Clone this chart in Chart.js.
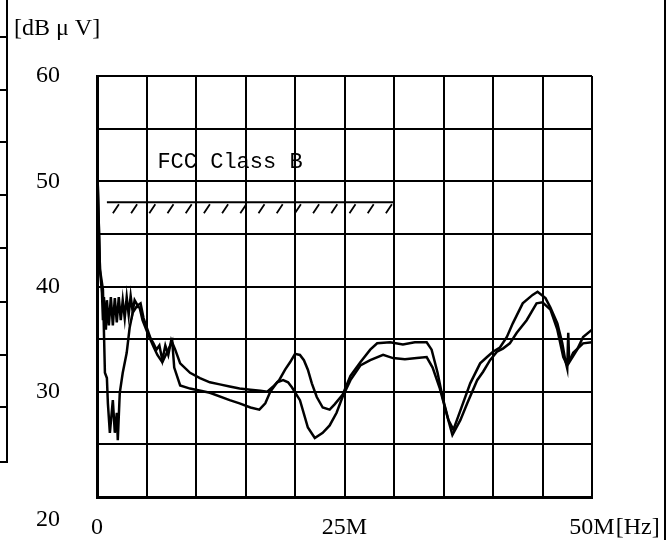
<!DOCTYPE html>
<html>
<head>
<meta charset="utf-8">
<script src="https://cdn.jsdelivr.net/npm/chart.js@4.4.0/dist/chart.umd.min.js"></script>
<style>
  html, body { margin: 0; padding: 0; background: #fff; }
  canvas { display: block; }
</style>
</head>
<body>
<canvas id="emiChart" width="670" height="540"></canvas>
<script>
// Datos (frecuencia en MHz, nivel en dBuV)
const freqA = [0, 0.3, 0.6, 0.8, 1.0, 1.1, 1.3, 1.6, 1.8, 2.0, 2.1, 2.3, 2.6, 3.0, 3.3, 3.6, 4.0, 4.3, 4.6, 5.1,
  5.7, 6.1, 6.6, 7.1, 7.6, 7.8, 8.4, 9.4, 11.4, 13.4, 14.4, 15.5, 16.4, 17.0, 17.5, 18.2, 18.8, 19.3, 19.7, 20.5,
  21.3, 22.0, 22.8, 23.5, 24.2, 24.8, 25.6, 26.6, 27.6, 28.9, 29.9, 31.1, 32.3, 33.3, 33.9, 34.6, 35.4, 35.9, 36.7,
  37.4, 38.4, 39.0, 39.7, 40.4, 41.0, 41.7, 42.4, 43.4, 44.4, 45.0, 45.8, 46.5, 47.1, 47.5, 48.1, 49.1, 50];
const levelA = [52.5, 41.6, 39.7, 31.8, 31.3, 28.9, 26.1, 29.2, 26.1, 28.0, 25.4, 29.9, 31.8, 33.7, 36.1, 37.5, 38.1, 38.0, 36.8, 35.6,
  34.3, 33.5, 32.8, 33.8, 34.8, 32.3, 30.6, 30.3, 29.9, 29.2, 28.9, 28.5, 28.3, 28.9, 30.0, 30.9, 31.1, 30.9, 30.4, 29.2,
  26.6, 25.6, 26.1, 26.8, 28.0, 29.5, 31.1, 32.5, 33.0, 33.5, 33.2, 33.1, 33.2, 33.3, 32.3, 30.4, 27.6, 25.9, 27.3,
  28.9, 31.1, 31.9, 33.0, 33.8, 34.1, 34.6, 35.6, 36.8, 38.4, 38.5, 37.8, 35.9, 33.3, 32.5, 33.7, 34.6, 34.7];

const freqB = [0, 0.3, 0.5, 0.6, 0.7, 0.9, 1.0, 1.2, 1.4, 1.6, 1.8, 2.0, 2.2, 2.4, 2.6, 2.8, 3.0, 3.2, 3.4, 3.6,
  3.8, 4.1, 4.4, 4.7, 5.1, 5.4, 5.7, 6.0, 6.3, 6.6, 6.9, 7.2, 7.5, 7.9, 8.4, 9.4, 10.4, 11.4, 12.4, 13.4,
  14.4, 15.5, 16.5, 17.2, 17.8, 18.4, 19.0, 19.5, 20.0, 20.5, 20.9, 21.3, 21.7, 22.2, 22.8, 23.5, 24.0, 24.8, 25.6,
  26.6, 27.6, 28.3, 29.6, 30.9, 32.1, 33.3, 33.8, 34.4, 34.9, 35.5, 36.0, 36.7, 37.7, 38.7, 39.4, 40.0, 40.7, 41.4,
  42.0, 43.0, 44.0, 44.5, 45.3, 45.8, 46.5, 47.0, 47.3, 47.5, 47.6, 47.7, 48.5, 49.1, 50];
const levelB = [52.5, 41.6, 39.4, 36.8, 39.0, 35.9, 38.7, 36.3, 39.0, 36.3, 38.9, 36.6, 39.0, 36.8, 38.7, 37.0, 39.0, 37.3, 39.1, 37.6,
  38.7, 38.2, 38.4, 37.0, 35.9, 35.1, 34.6, 34.0, 34.4, 33.0, 34.4, 33.5, 34.9, 34.0, 32.7, 31.8, 31.3, 30.9, 30.7, 30.5,
  30.3, 30.2, 30.1, 30.0, 30.5, 31.1, 32.1, 32.8, 33.6, 33.5, 33.0, 32.1, 30.8, 29.5, 28.5, 28.3, 28.8, 29.7, 31.5,
  32.8, 34.0, 34.6, 34.7, 34.5, 34.7, 34.7, 34.0, 31.8, 29.5, 27.3, 26.4, 28.2, 30.8, 32.7, 33.3, 33.8, 34.2, 35.2,
  36.5, 38.4, 39.2, 39.5, 38.9, 38.0, 36.5, 34.6, 33.0, 32.2, 35.6, 32.8, 34.0, 35.2, 35.9];

// Límite FCC Class B
const limitFreq = [1, 30];
const limitLevel = [48, 48];
const limitName = 'FCC Class B';

// Etiquetas de los ejes
const xTickLabels = { 0: '0', 25: '25M', 50: '50M' };
const yTickLabels = [20, 30, 40, 50, 60];
const xUnit = '[Hz]';
const yUnit = '[dB\u00a0\u03bc\u00a0V]';

const toPoints = (xs, ys) => xs.map((x, i) => ({ x: x, y: ys[i] }));
const serif = '"Liberation Serif", "DejaVu Serif", serif';

// Marco, textos y rayado del límite
const decoPlugin = {
  id: 'deco',
  beforeDraw(chart) {
    const c = chart.ctx;
    c.save();
    c.fillStyle = '#fff';
    c.fillRect(0, 0, chart.width, chart.height);
    c.restore();
  },
  afterDraw(chart) {
    const c = chart.ctx;
    const xs = chart.scales.x, ys = chart.scales.y;
    c.save();
    c.strokeStyle = '#000';
    c.fillStyle = '#000';

    // restos de la figura vecina (izquierda) y borde derecho
    c.lineWidth = 2;
    c.beginPath();
    c.moveTo(7, 0); c.lineTo(7, 462); c.lineTo(0, 462);
    [37, 90, 142, 195, 248, 302, 355, 407].forEach(y => { c.moveTo(0, y); c.lineTo(7, y); });
    c.moveTo(665, 0); c.lineTo(665, 540);
    c.stroke();

    // unidad del eje Y
    c.font = '24px ' + serif;
    c.textAlign = 'left';
    c.textBaseline = 'middle';
    c.fillText(yUnit, 14, 29);

    // unidad del eje X, pegada a "50M"
    const lastLbl = xTickLabels[50];
    const x50 = xs.getPixelForValue(50) + c.measureText(lastLbl).width / 2;
    c.fillText(xUnit, x50 + 1, 528);

    // rayado bajo la línea límite
    const meta = chart.getDatasetMeta(2);
    const p0 = meta.data[0], p1 = meta.data[1];
    c.lineWidth = 1.8;
    c.beginPath();
    for (let x = p0.x + 8; x < p1.x; x += 18.2) {
      c.moveTo(x + 4, p0.y + 2);
      c.lineTo(x - 2, p0.y + 11);
    }
    c.stroke();

    // nombre del límite
    c.font = '22px "Liberation Mono", "DejaVu Sans Mono", monospace';
    c.textAlign = 'left';
    c.fillText(limitName, xs.getPixelForValue(6.1), ys.getPixelForValue(51.8));
    c.restore();
  }
};

const ctx = document.getElementById('emiChart').getContext('2d');
new Chart(ctx, {
  type: 'line',
  data: {
    datasets: [
      { data: toPoints(freqA, levelA), borderColor: '#000', borderWidth: 2.5 },
      { data: toPoints(freqB, levelB), borderColor: '#000', borderWidth: 2.5 },
      { data: toPoints(limitFreq, limitLevel), borderColor: '#000', borderWidth: 2 }
    ]
  },
  options: {
    responsive: false,
    animation: false,
    events: [],
    layout: { padding: { top: 76, right: 78, left: 0, bottom: 0 } },
    elements: {
      line: { tension: 0, fill: false },
      point: { radius: 0 }
    },
    plugins: {
      legend: { display: false },
      tooltip: { enabled: false }
    },
    scales: {
      x: {
        type: 'linear',
        min: 0, max: 50,
        afterFit: s => { s.height = 43; s.paddingLeft = 0; s.paddingRight = 0; },
        border: { color: '#000', width: 3 },
        grid: { color: '#000', lineWidth: 2, drawTicks: false },
        ticks: {
          stepSize: 5,
          padding: 16,
          maxRotation: 0,
          autoSkip: false,
          color: '#000',
          font: { family: serif, size: 24 },
          callback: v => (xTickLabels[v] !== undefined ? xTickLabels[v] : '')
        }
      },
      y: {
        min: 20, max: 60,
        afterFit: s => { s.width = 97; s.paddingTop = 0; s.paddingBottom = 0; },
        border: { color: '#000', width: 3 },
        grid: { color: '#000', lineWidth: 2, drawTicks: false },
        ticks: {
          stepSize: 5,
          padding: 37,
          autoSkip: false,
          color: '#000',
          font: c => ({ family: serif, size: 24, lineHeight: (c.tick && c.tick.value === 20) ? 1.9 : 1.2 }),
          // el "20" va desplazado hacia abajo, como en el original
          callback: v => {
            if (!yTickLabels.includes(v)) return '';
            return v === 20 ? ['', String(v)] : String(v);
          }
        }
      }
    }
  },
  plugins: [decoPlugin]
});
</script>
</body>
</html>
